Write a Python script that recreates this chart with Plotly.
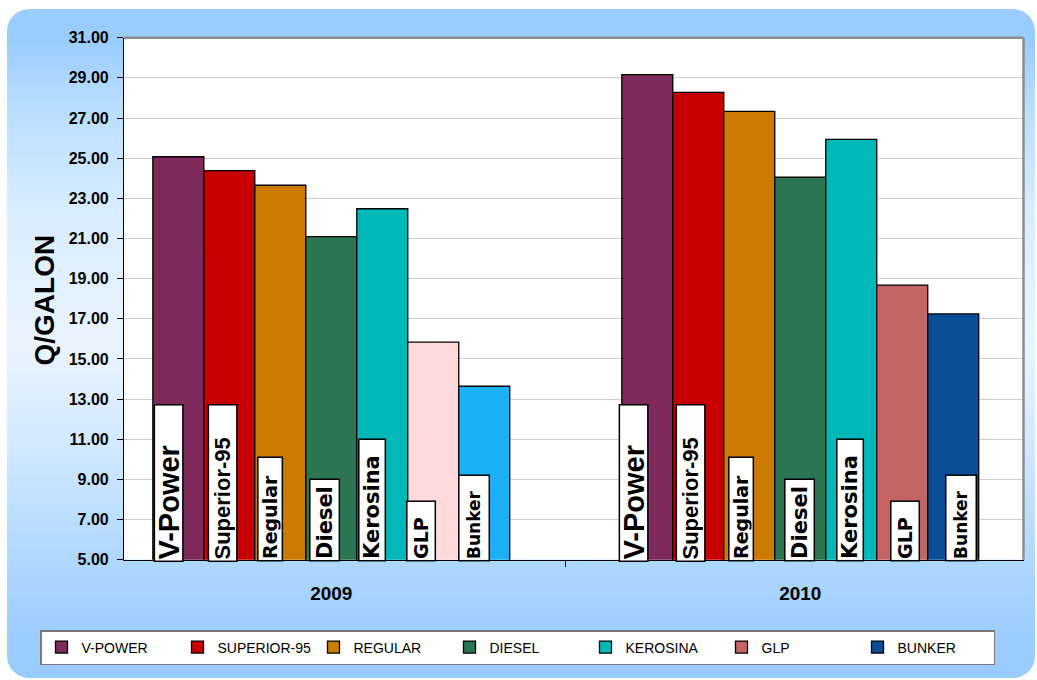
import numpy as np
import plotly.graph_objects as go

# ---------------- data ----------------
YEARS = ["2009", "2010"]
FUELS = ["V-POWER", "SUPERIOR-95", "REGULAR", "DIESEL", "KEROSINA", "GLP", "BUNKER"]
BAR_LABELS = ["V-Power", "Superior-95", "Regular", "Diesel", "Kerosina", "GLP", "Bunker"]
PRICE_2009 = [25.07, 24.38, 23.65, 21.09, 22.48, 15.84, 13.64]
PRICE_2010 = [29.16, 28.28, 27.33, 24.05, 25.94, 18.68, 17.24]
Y_TICKS = [5, 7, 9, 11, 13, 15, 17, 19, 21, 23, 25, 27, 29, 31]
Y_TITLE = "Q/GALON"

# ---------------- styles ----------------
W, H = 1037, 680
COLORS_2009 = ["#7E2A5A", "#C60000", "#CC7A00", "#2B7552", "#00B8B8", "#FFDADA", "#1CB0F6"]
COLORS_2010 = ["#7E2A5A", "#C60000", "#CC7A00", "#2B7552", "#00B8B8", "#C46464", "#0A4E98"]
BARGAP = 0.239
LBL_W = [30, 30, 26, 31, 28, 30, 32]          # visual box width (px)
LBL_H = [158, 158, 105, 83, 123, 61, 87]       # visual box height (px)
LBL_FAMILY = ["Liberation Sans", "Liberation Sans", "DejaVu Sans", "DejaVu Sans",
              "DejaVu Sans", "DejaVu Sans", "DejaVu Sans"]
LBL_SIZE = [29, 22, 19, 21, 21, 19, 17]
LBL_SHIFT = [[-10, -7, -10, -7, -10, -12, -10],
             [-14, -8, -8, -1, -1, 3, 8]]

PLOT_L, PLOT_R, PLOT_T, PLOT_B = 124, 1023.5, 37.7, 559.7

fig = go.Figure()

# ---- background rounded panel with vertical gradient (on a full-page helper axis) ----
def rounded_rect(x0, y0, x1, y1, r, n=14):
    xs, ys = [], []
    for cx, cy, a0, a1 in [(x1 - r, y1 - r, 0, 90), (x0 + r, y1 - r, 90, 180),
                           (x0 + r, y0 + r, 180, 270), (x1 - r, y0 + r, 270, 360)]:
        t = np.radians(np.linspace(a0, a1, n))
        xs += list(cx + r * np.cos(t))
        ys += list(cy + r * np.sin(t))
    xs.append(xs[0]); ys.append(ys[0])
    return xs, ys

bx, by = rounded_rect(7, 2, 1035, 671, 22)
fig.add_trace(go.Scatter(
    x=bx, y=by, mode="lines", line=dict(width=0), fill="toself",
    fillgradient=dict(type="vertical", start=2, stop=671,
                      colorscale=[[0.0, "#9ACBFF"], [0.06, "#9CCDFF"], [0.18, "#B0D8FF"],
                                  [0.34, "#D0E8FF"], [0.5, "#EAF4FF"], [0.7, "#D8EDFF"],
                                  [0.86, "#B8DDFF"], [0.955, "#99CCFF"], [1.0, "#99CCFF"]]),
    hoverinfo="skip", showlegend=False, xaxis="x", yaxis="y"))

# ---- bars ----
price_by_year = {YEARS[0]: PRICE_2009, YEARS[1]: PRICE_2010}
color_by_year = {YEARS[0]: COLORS_2009, YEARS[1]: COLORS_2010}
order = YEARS[::-1]  # 2010 first so legend swatch takes 2010 colour
for i, fuel in enumerate(FUELS):
    fig.add_trace(go.Bar(
        name=fuel, x=order, y=[price_by_year[yr][i] for yr in order],
        marker=dict(color=[color_by_year[yr][i] for yr in order],
                    line=dict(color="#000000", width=1.3)),
        xaxis="x2", yaxis="y2"))

# ---- in-bar name labels ----
bw = (1 - BARGAP) / len(FUELS)
for j, yr in enumerate(YEARS):
    for i, lab in enumerate(BAR_LABELS):
        fig.add_annotation(
            x=j + (i - (len(FUELS) - 1) / 2) * bw, y=Y_TICKS[0], xref="x2", yref="y2",
            text=lab, showarrow=False, textangle=-90,
            xanchor="center", yanchor="bottom", yshift=-2, xshift=LBL_SHIFT[j][i],
            width=LBL_H[i] - 5, height=LBL_W[i] - 5, align="left", valign="middle",
            bgcolor="white", bordercolor="black", borderwidth=1.5, borderpad=1,
            font=dict(family=LBL_FAMILY[i], size=LBL_SIZE[i], color="black", weight="bold"))

# ---- y title ----
fig.add_annotation(x=43.5 / W, y=1 - 300 / H, xref="paper", yref="paper", text=Y_TITLE,
                   textangle=-90, showarrow=False, xanchor="center", yanchor="middle",
                   font=dict(family="Liberation Sans", size=28, color="black", weight="bold"))

# ---- plot border (top / right in grey) ----
x0p, x1p = PLOT_L / W, PLOT_R / W
y0p, y1p = 1 - PLOT_B / H, 1 - PLOT_T / H
fig.add_shape(type="line", xref="paper", yref="paper", x0=x0p, x1=x1p, y0=y1p, y1=y1p,
              line=dict(color="#8E8E8E", width=2.5))
fig.add_shape(type="line", xref="paper", yref="paper", x0=x1p, x1=x1p, y0=y0p, y1=y1p,
              line=dict(color="#8E8E8E", width=2.5))

fig.update_layout(
    width=W, height=H, margin=dict(l=0, r=0, t=0, b=0, pad=0, autoexpand=False),
    paper_bgcolor="white", plot_bgcolor="#FFFFFF",
    barmode="group", bargap=BARGAP, bargroupgap=0,
    font=dict(family="Liberation Sans", color="black"),
    xaxis=dict(domain=[0, 1], range=[0, W], visible=False, fixedrange=True, automargin=False),
    yaxis=dict(domain=[0, 1], range=[0, H], visible=False, fixedrange=True, automargin=False),
    xaxis2=dict(domain=[x0p, x1p], anchor="y2", type="category", automargin=False,
                categoryorder="array", categoryarray=YEARS,
                range=[-0.442, 1.476], showline=True, linecolor="black", linewidth=1.2,
                ticks="outside", tickson="boundaries", ticklen=6, tickcolor="black",
                showgrid=False, ticklabelstandoff=16,
                tickfont=dict(family="Liberation Sans", size=19, color="black", weight="bold")),
    yaxis2=dict(domain=[y0p, y1p], anchor="x2", range=[Y_TICKS[0], Y_TICKS[-1]],
                automargin=False, ticklabelstandoff=5,
                tickvals=Y_TICKS, tickformat=".2f", showline=True, linecolor="black",
                linewidth=1.2, ticks="outside", ticklen=6, tickcolor="black",
                showgrid=True, gridcolor="#CFCFCF", gridwidth=1, zeroline=False,
                tickfont=dict(family="Liberation Sans", size=16, color="black", weight="bold")),
    legend=dict(orientation="h", x=40 / W, xanchor="left", y=1 - 630 / H, yanchor="top",
                bgcolor="white", bordercolor="#7A7A7A", borderwidth=1.5,
                entrywidth=91, entrywidthmode="pixels",
                font=dict(family="Liberation Sans", size=14, color="black")),
    showlegend=True,
)

fig.write_html("out.html", config={"displayModeBar": False},
               post_script="document.body.style.margin='0';document.body.style.overflow='hidden';")
